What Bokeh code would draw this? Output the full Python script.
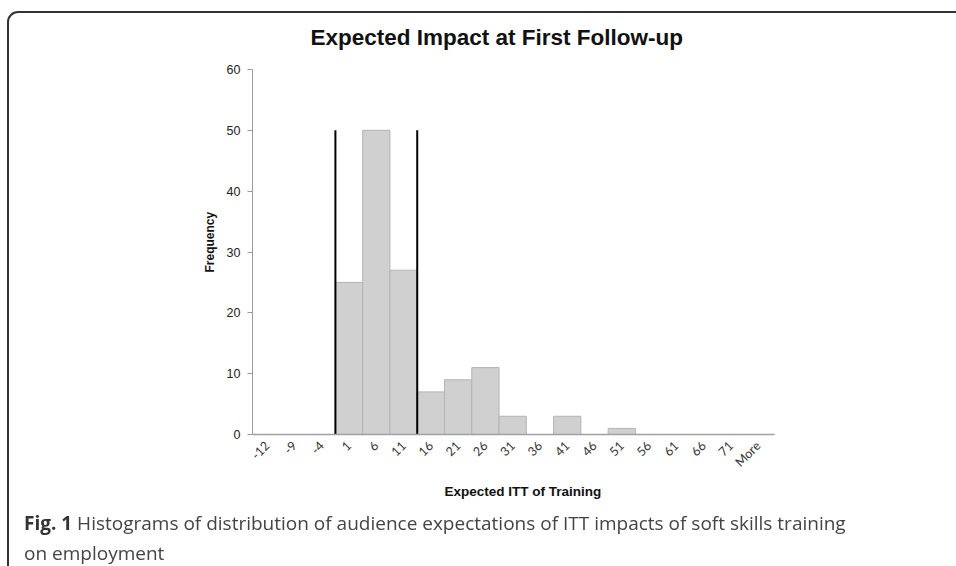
from math import pi
from bokeh.plotting import figure
from bokeh.layouts import column
from bokeh.models import Range1d, FixedTicker, ColumnDataSource, Title, Div
from bokeh.embed import file_html
from bokeh.resources import INLINE

# ---- data ----
bins = ["-12", "-9", "-4", "1", "6", "11", "16", "21", "26", "31", "36",
        "41", "46", "51", "56", "61", "66", "71", "More"]
frequency = [0, 0, 0, 25, 50, 27, 7, 9, 11, 3, 0, 3, 0, 1, 0, 0, 0, 0, 0]
marker_bins = ["1", "16"]      # vertical markers at the left edge of these bins
marker_height = 50
y_ticks = [0, 10, 20, 30, 40, 50, 60]

title_text = "Expected Impact at First Follow-up"
x_title = "Expected ITT of Training"
y_title = "Frequency"
caption_bold = "Fig. 1"
caption_line1 = "Histograms of distribution of audience expectations of ITT impacts of soft skills training"
caption_line2 = "on employment"

W, H = 956, 540
DIV_H = 26
FL, FR, FT, FB = 252, 774, 69, 434   # plot-area edges on the page

p = figure(width=W, height=H, output_backend="svg", toolbar_location=None,
           x_range=Range1d(-0.54, 18.6), y_range=Range1d(0, 60),
           min_border_left=FL, min_border_right=W - FR,
           min_border_top=FT, min_border_bottom=H - FB)
p.background_fill_color = "white"
p.border_fill_color = "white"
p.outline_line_color = None
p.xgrid.visible = False
p.ygrid.visible = False

# title
p.title.text = title_text
p.title.align = "left"
p.title.offset = 58
p.title.text_font = "Liberation Sans"
p.title.text_font_style = "bold"
p.title.text_font_size = "22.5px"
p.title.text_color = "#111111"
p.title.standoff = 39

idx = [i for i, f in enumerate(frequency) if f > 0]
src = ColumnDataSource(dict(x=idx, top=[frequency[i] for i in idx]))
p.vbar(x="x", top="top", width=1, bottom=0, source=src,
       fill_color="#d0d0d0", line_color="#b4b4b4", line_width=1)

mx = [bins.index(b) - 0.5 for b in marker_bins]
p.segment(x0=mx, y0=[0] * len(mx), x1=mx, y1=[marker_height] * len(mx),
          line_color="black", line_width=2)

# x axis
xa = p.xaxis[0]
xa.ticker = FixedTicker(ticks=list(range(len(bins))))
xa.major_label_overrides = {i: b for i, b in enumerate(bins)}
xa.major_label_orientation = pi / 4
xa.major_tick_out = 0
xa.major_tick_in = 0
xa.minor_tick_line_color = None
xa.axis_line_color = "#a0a0a0"
xa.axis_line_width = 1.5
xa.major_label_text_font = "Lato"
xa.major_label_text_font_size = "12.5px"
xa.major_label_text_color = "#333333"
xa.major_label_standoff = 9

# x-axis title as a title below, placed like the reference
p.add_layout(Title(text=x_title, align="left", offset=192, standoff=8,
                   text_font="Liberation Sans", text_font_style="bold",
                   text_font_size="13.5px", text_color="#111111"), "below")

# y axis
ya = p.yaxis[0]
ya.ticker = FixedTicker(ticks=y_ticks)
ya.major_tick_out = 5
ya.major_tick_in = 0
ya.minor_tick_line_color = None
ya.axis_line_color = "#9a9a9a"
ya.major_tick_line_color = "#9a9a9a"
ya.major_label_text_font = "Liberation Sans"
ya.major_label_text_font_size = "12.5px"
ya.major_label_text_color = "#222222"
ya.major_label_standoff = 7

# y-axis title as a title on the left, placed like the reference
p.add_layout(Title(text=y_title, align="left", offset=162, standoff=14,
                   text_font="Liberation Sans", text_font_style="bold",
                   text_font_size="12px", text_color="#111111"), "left")

# caption and the rounded frame around chart + caption
caption_html = (
    '<div style="position:fixed;left:7px;top:11px;width:1400px;height:1400px;'
    'border:2px solid #333;border-radius:11px;box-sizing:border-box;pointer-events:none"></div>'
    '<div style="position:fixed;left:24px;top:508px;font-family:\'Open Sans\';font-size:19px;'
    'line-height:30px;color:#444;white-space:nowrap;margin:0;padding:0">'
    f'<b style="color:#333">{caption_bold}</b> {caption_line1}<br>{caption_line2}</div>'
)
div = Div(text=caption_html, width=W, height=DIV_H)

layout = column(p, div, spacing=0)
open("out.html", "w").write(file_html(layout, INLINE))
